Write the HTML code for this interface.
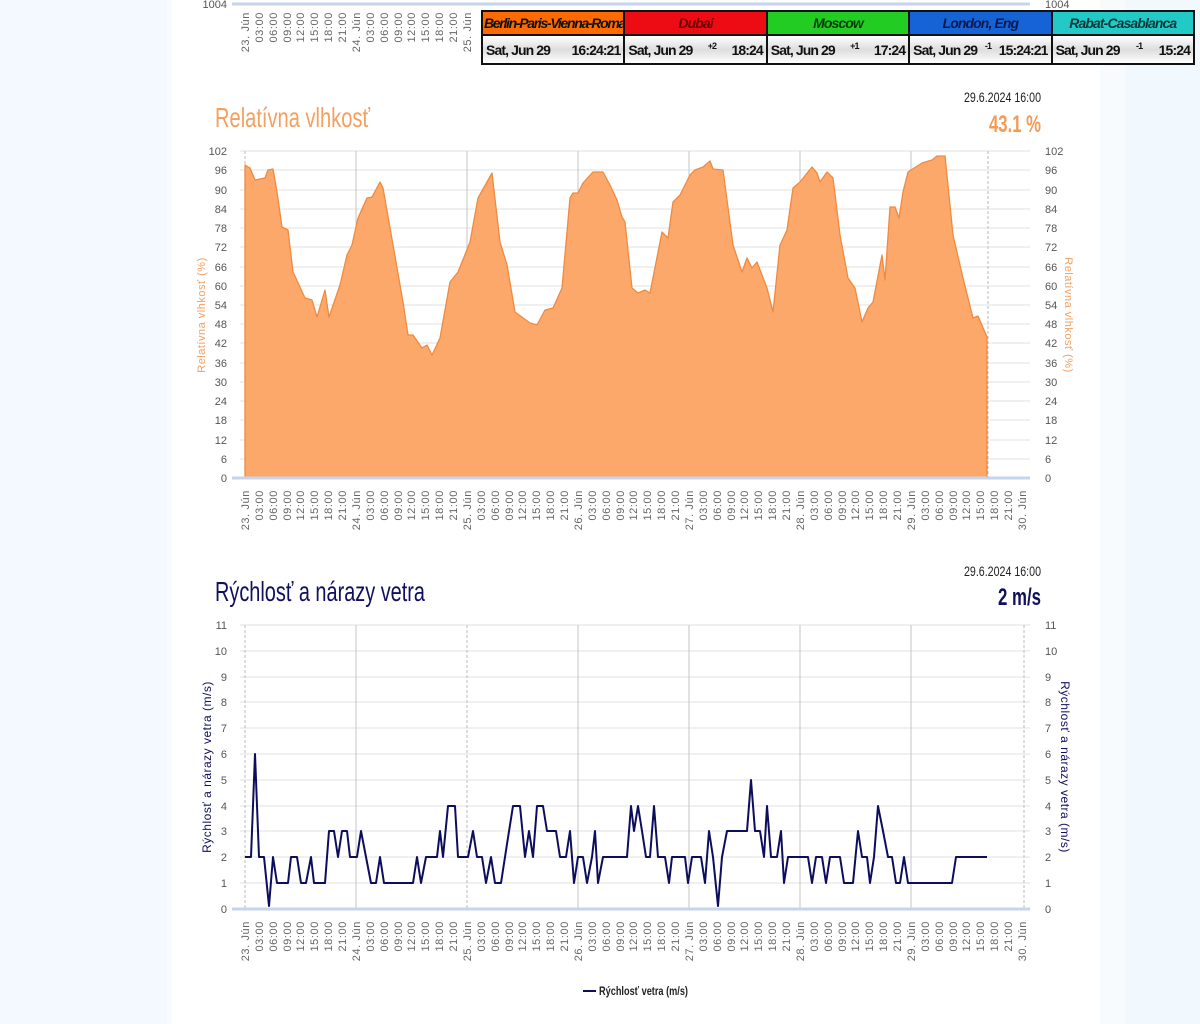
<!DOCTYPE html>
<html><head><meta charset="utf-8"><style>
html,body{margin:0;padding:0;width:1200px;height:1024px;overflow:hidden;background:#f1f8fe;}
.bg1{position:absolute;left:0;top:0;width:167px;height:1024px;background:#f3f9fe}
.bg2{position:absolute;left:167px;top:0;width:5px;height:1024px;background:#f8fbff}
.panel{position:absolute;left:172px;top:0;width:928px;height:1024px;background:#fff}
.bg3{position:absolute;left:1100px;top:0;width:25px;height:1024px;background:#f7fbfe}
svg{position:absolute;left:0;top:0}
table.tz{position:absolute;left:481px;top:10px;width:714px;table-layout:fixed;border-collapse:collapse;font-family:"Liberation Sans Narrow","Liberation Sans",sans-serif;font-weight:bold;}
table.tz td{border:2px solid #111;padding:0 3px;height:23px;font-size:14px;letter-spacing:-0.9px;white-space:nowrap;overflow:hidden}
table.tz tr.h td{font-style:italic;text-align:center;height:22px}
table.tz tr.d td{height:27px;background:linear-gradient(#fff,#ddd 50%,#fff);color:#111;position:relative}
.sp{display:flex;justify-content:space-between;align-items:center}
sup{font-size:9px;position:relative;top:-4px}
</style></head><body>
<div class="bg1"></div><div class="bg2"></div><div class="panel"></div><div class="bg3"></div>
<svg width="1200" height="1024" viewBox="0 0 1200 1024" font-family="Liberation Sans, sans-serif">
<line x1="232" y1="4" x2="1030" y2="4" stroke="#c6d4ee" stroke-width="3"/>
<text x="227" y="8" font-size="11" fill="#555" text-anchor="end">1004</text>
<text x="1045" y="8" font-size="11" fill="#555">1004</text>
<g font-size="11" fill="#666" text-anchor="end" letter-spacing="0.6">
<text transform="translate(249,12) rotate(-90)">23. Jún</text>
<text transform="translate(263,12) rotate(-90)">03:00</text>
<text transform="translate(277,12) rotate(-90)">06:00</text>
<text transform="translate(291,12) rotate(-90)">09:00</text>
<text transform="translate(304,12) rotate(-90)">12:00</text>
<text transform="translate(318,12) rotate(-90)">15:00</text>
<text transform="translate(332,12) rotate(-90)">18:00</text>
<text transform="translate(346,12) rotate(-90)">21:00</text>
<text transform="translate(360,12) rotate(-90)">24. Jún</text>
<text transform="translate(374,12) rotate(-90)">03:00</text>
<text transform="translate(388,12) rotate(-90)">06:00</text>
<text transform="translate(402,12) rotate(-90)">09:00</text>
<text transform="translate(415,12) rotate(-90)">12:00</text>
<text transform="translate(429,12) rotate(-90)">15:00</text>
<text transform="translate(443,12) rotate(-90)">18:00</text>
<text transform="translate(457,12) rotate(-90)">21:00</text>
<text transform="translate(471,12) rotate(-90)">25. Jún</text>
</g>

<text x="215" y="127" font-size="28" fill="#f4a060" textLength="155" lengthAdjust="spacingAndGlyphs">Relatívna vlhkosť</text>
<text x="1041" y="102" font-size="14" fill="#222" text-anchor="end" textLength="77" lengthAdjust="spacingAndGlyphs">29.6.2024 16:00</text>
<text x="1041" y="132" font-size="24" font-weight="bold" fill="#f59a55" text-anchor="end" textLength="52" lengthAdjust="spacingAndGlyphs">43.1 %</text>
<g stroke="#e2e2e2" stroke-width="1">
<line x1="240" y1="151" x2="1030" y2="151"/><line x1="240" y1="170" x2="1030" y2="170"/><line x1="240" y1="190" x2="1030" y2="190"/><line x1="240" y1="209" x2="1030" y2="209"/><line x1="240" y1="228" x2="1030" y2="228"/><line x1="240" y1="247" x2="1030" y2="247"/><line x1="240" y1="267" x2="1030" y2="267"/><line x1="240" y1="286" x2="1030" y2="286"/><line x1="240" y1="305" x2="1030" y2="305"/><line x1="240" y1="324" x2="1030" y2="324"/><line x1="240" y1="343" x2="1030" y2="343"/><line x1="240" y1="363" x2="1030" y2="363"/><line x1="240" y1="382" x2="1030" y2="382"/><line x1="240" y1="401" x2="1030" y2="401"/><line x1="240" y1="420" x2="1030" y2="420"/><line x1="240" y1="440" x2="1030" y2="440"/><line x1="240" y1="459" x2="1030" y2="459"/>
</g>
<g stroke="#c4c4c4" stroke-width="1">
<line x1="356" y1="151" x2="356" y2="478"/><line x1="467" y1="151" x2="467" y2="478"/><line x1="578" y1="151" x2="578" y2="478"/><line x1="689" y1="151" x2="689" y2="478"/><line x1="800" y1="151" x2="800" y2="478"/><line x1="911" y1="151" x2="911" y2="478"/>
</g>
<g stroke="#bbb" stroke-width="1" stroke-dasharray="3,2">
<line x1="245" y1="151" x2="245" y2="478"/><line x1="988" y1="151" x2="988" y2="478"/>
</g>
<polygon fill="#fba86a" stroke="#f08a40" stroke-width="1.3" stroke-linejoin="round" points="245,478 245,165 250,168 255,180 265,178 268,170 273,169 277,192 282,227 288,230 293,272 305,298 312,300 317,317 325,290 329,317 340,285 347,255 352,245 358,218 367,198 372,197 380,182 383,188 393,245 403,302 408,335 413,335 422,348 427,345 432,355 440,338 450,282 458,272 470,242 478,198 487,182 492,173 500,242 507,265 515,312 530,323 537,325 545,310 553,308 562,288 570,198 573,193 578,193 583,183 593,172 603,172 610,185 617,200 622,217 625,222 632,288 638,293 645,290 650,293 662,232 668,238 673,202 680,195 690,175 695,170 703,167 710,161 713,169 723,170 733,245 742,272 747,258 752,268 757,262 767,288 773,312 780,245 787,230 793,188 800,182 812,167 817,173 820,182 827,172 833,178 840,235 848,278 855,288 862,322 868,308 873,302 882,255 885,280 890,207 895,207 899,218 903,192 908,172 922,163 932,160 937,156 945,156 953,235 963,278 973,318 978,316 987,337 987,478"/>
<line x1="232" y1="478" x2="1030" y2="478" stroke="#c6d4ee" stroke-width="3"/>
<g font-size="11" fill="#555">
<g text-anchor="end">
<text x="227" y="155">102</text><text x="227" y="174">96</text><text x="227" y="194">90</text><text x="227" y="213">84</text><text x="227" y="232">78</text><text x="227" y="251">72</text><text x="227" y="271">66</text><text x="227" y="290">60</text><text x="227" y="309">54</text><text x="227" y="328">48</text><text x="227" y="347">42</text><text x="227" y="367">36</text><text x="227" y="386">30</text><text x="227" y="405">24</text><text x="227" y="424">18</text><text x="227" y="444">12</text><text x="227" y="463">6</text><text x="227" y="482">0</text>
</g>
<text x="1045" y="155">102</text><text x="1045" y="174">96</text><text x="1045" y="194">90</text><text x="1045" y="213">84</text><text x="1045" y="232">78</text><text x="1045" y="251">72</text><text x="1045" y="271">66</text><text x="1045" y="290">60</text><text x="1045" y="309">54</text><text x="1045" y="328">48</text><text x="1045" y="347">42</text><text x="1045" y="367">36</text><text x="1045" y="386">30</text><text x="1045" y="405">24</text><text x="1045" y="424">18</text><text x="1045" y="444">12</text><text x="1045" y="463">6</text><text x="1045" y="482">0</text>
</g>
<text transform="translate(205,315) rotate(-90)" font-size="11" fill="#f4a060" text-anchor="middle" letter-spacing="0.5">Relatívna vlhkosť (%)</text>
<text transform="translate(1065,315) rotate(90)" font-size="11" fill="#f4a060" text-anchor="middle" letter-spacing="0.5">Relatívna vlhkosť (%)</text>
<g font-size="11" fill="#666" text-anchor="end" letter-spacing="0.6">
<text transform="translate(249,490) rotate(-90)">23. Jún</text><text transform="translate(263,490) rotate(-90)">03:00</text><text transform="translate(277,490) rotate(-90)">06:00</text><text transform="translate(291,490) rotate(-90)">09:00</text><text transform="translate(304,490) rotate(-90)">12:00</text><text transform="translate(318,490) rotate(-90)">15:00</text><text transform="translate(332,490) rotate(-90)">18:00</text><text transform="translate(346,490) rotate(-90)">21:00</text>
<text transform="translate(360,490) rotate(-90)">24. Jún</text><text transform="translate(374,490) rotate(-90)">03:00</text><text transform="translate(388,490) rotate(-90)">06:00</text><text transform="translate(402,490) rotate(-90)">09:00</text><text transform="translate(415,490) rotate(-90)">12:00</text><text transform="translate(429,490) rotate(-90)">15:00</text><text transform="translate(443,490) rotate(-90)">18:00</text><text transform="translate(457,490) rotate(-90)">21:00</text>
<text transform="translate(471,490) rotate(-90)">25. Jún</text><text transform="translate(485,490) rotate(-90)">03:00</text><text transform="translate(499,490) rotate(-90)">06:00</text><text transform="translate(513,490) rotate(-90)">09:00</text><text transform="translate(526,490) rotate(-90)">12:00</text><text transform="translate(540,490) rotate(-90)">15:00</text><text transform="translate(554,490) rotate(-90)">18:00</text><text transform="translate(568,490) rotate(-90)">21:00</text>
<text transform="translate(582,490) rotate(-90)">26. Jún</text><text transform="translate(596,490) rotate(-90)">03:00</text><text transform="translate(610,490) rotate(-90)">06:00</text><text transform="translate(624,490) rotate(-90)">09:00</text><text transform="translate(637,490) rotate(-90)">12:00</text><text transform="translate(651,490) rotate(-90)">15:00</text><text transform="translate(665,490) rotate(-90)">18:00</text><text transform="translate(679,490) rotate(-90)">21:00</text>
<text transform="translate(693,490) rotate(-90)">27. Jún</text><text transform="translate(707,490) rotate(-90)">03:00</text><text transform="translate(721,490) rotate(-90)">06:00</text><text transform="translate(735,490) rotate(-90)">09:00</text><text transform="translate(748,490) rotate(-90)">12:00</text><text transform="translate(762,490) rotate(-90)">15:00</text><text transform="translate(776,490) rotate(-90)">18:00</text><text transform="translate(790,490) rotate(-90)">21:00</text>
<text transform="translate(804,490) rotate(-90)">28. Jún</text><text transform="translate(818,490) rotate(-90)">03:00</text><text transform="translate(832,490) rotate(-90)">06:00</text><text transform="translate(846,490) rotate(-90)">09:00</text><text transform="translate(859,490) rotate(-90)">12:00</text><text transform="translate(873,490) rotate(-90)">15:00</text><text transform="translate(887,490) rotate(-90)">18:00</text><text transform="translate(901,490) rotate(-90)">21:00</text>
<text transform="translate(915,490) rotate(-90)">29. Jún</text><text transform="translate(929,490) rotate(-90)">03:00</text><text transform="translate(943,490) rotate(-90)">06:00</text><text transform="translate(957,490) rotate(-90)">09:00</text><text transform="translate(970,490) rotate(-90)">12:00</text><text transform="translate(984,490) rotate(-90)">15:00</text><text transform="translate(998,490) rotate(-90)">18:00</text><text transform="translate(1012,490) rotate(-90)">21:00</text>
<text transform="translate(1026,490) rotate(-90)">30. Jún</text>
</g>

<text x="215" y="601" font-size="28" fill="#10105e" textLength="210" lengthAdjust="spacingAndGlyphs">Rýchlosť a nárazy vetra</text>
<text x="1041" y="576" font-size="14" fill="#222" text-anchor="end" textLength="77" lengthAdjust="spacingAndGlyphs">29.6.2024 16:00</text>
<text x="1041" y="605" font-size="24" font-weight="bold" fill="#10105e" text-anchor="end" textLength="43" lengthAdjust="spacingAndGlyphs">2 m/s</text>
<g stroke="#e2e2e2" stroke-width="1">
<line x1="240" y1="625" x2="1030" y2="625"/><line x1="240" y1="651" x2="1030" y2="651"/><line x1="240" y1="677" x2="1030" y2="677"/><line x1="240" y1="702" x2="1030" y2="702"/><line x1="240" y1="728" x2="1030" y2="728"/><line x1="240" y1="754" x2="1030" y2="754"/><line x1="240" y1="780" x2="1030" y2="780"/><line x1="240" y1="806" x2="1030" y2="806"/><line x1="240" y1="831" x2="1030" y2="831"/><line x1="240" y1="857" x2="1030" y2="857"/><line x1="240" y1="883" x2="1030" y2="883"/>
</g>
<g stroke="#c4c4c4" stroke-width="1">
<line x1="356" y1="625" x2="356" y2="909"/><line x1="578" y1="625" x2="578" y2="909"/><line x1="689" y1="625" x2="689" y2="909"/><line x1="800" y1="625" x2="800" y2="909"/><line x1="911" y1="625" x2="911" y2="909"/>
</g>
<g stroke="#bbb" stroke-width="1" stroke-dasharray="3,2">
<line x1="245" y1="625" x2="245" y2="909"/><line x1="467" y1="625" x2="467" y2="909"/><line x1="1024" y1="625" x2="1024" y2="909"/>
</g>
<line x1="232" y1="909" x2="1030" y2="909" stroke="#c6d4ee" stroke-width="3"/>
<polyline fill="none" stroke="#0d0d5e" stroke-width="2" stroke-linejoin="round" points="245,857 251,857 255,754 259,857 264,857 269,906 273,857 277,883 288,883 291,857 297,857 301,883 306,883 311,857 314,883 325,883 329,831 334,831 338,857 342,831 347,831 350,857 357,857 361,831 366,857 371,883 376,883 380,857 384,883 413,883 417,857 421,883 426,857 437,857 440,831 443,857 448,806 455,806 458,857 468,857 473,831 477,857 482,857 486,883 491,857 495,883 501,883 507,844 513,806 520,806 525,857 529,831 533,857 537,806 543,806 547,831 556,831 560,857 566,857 570,831 574,883 578,857 583,857 587,883 592,857 595,831 598,883 603,857 627,857 631,806 634,831 638,806 642,831 646,857 650,857 654,806 658,857 665,857 669,883 672,857 685,857 688,883 692,857 701,857 705,883 709,831 713,857 718,906 722,857 727,831 747,831 751,780 755,831 760,831 764,857 767,806 771,857 777,857 781,831 784,883 788,857 808,857 812,883 816,857 822,857 826,883 830,857 840,857 844,883 853,883 858,831 862,857 867,857 870,883 874,857 878,806 883,831 888,857 892,857 896,883 900,883 904,857 908,883 952,883 956,857 987,857"/>
<g font-size="11" fill="#555">
<g text-anchor="end">
<text x="227" y="629">11</text><text x="227" y="655">10</text><text x="227" y="681">9</text><text x="227" y="706">8</text><text x="227" y="732">7</text><text x="227" y="758">6</text><text x="227" y="784">5</text><text x="227" y="810">4</text><text x="227" y="835">3</text><text x="227" y="861">2</text><text x="227" y="887">1</text><text x="227" y="913">0</text>
</g>
<text x="1045" y="629">11</text><text x="1045" y="655">10</text><text x="1045" y="681">9</text><text x="1045" y="706">8</text><text x="1045" y="732">7</text><text x="1045" y="758">6</text><text x="1045" y="784">5</text><text x="1045" y="810">4</text><text x="1045" y="835">3</text><text x="1045" y="861">2</text><text x="1045" y="887">1</text><text x="1045" y="913">0</text>
</g>
<text transform="translate(211,767) rotate(-90)" font-size="12" fill="#10105e" text-anchor="middle" letter-spacing="0.5">Rýchlosť a nárazy vetra (m/s)</text>
<text transform="translate(1061,767) rotate(90)" font-size="12" fill="#10105e" text-anchor="middle" letter-spacing="0.5">Rýchlosť a nárazy vetra (m/s)</text>
<g font-size="11" fill="#666" text-anchor="end" letter-spacing="0.6">
<text transform="translate(249,921) rotate(-90)">23. Jún</text><text transform="translate(263,921) rotate(-90)">03:00</text><text transform="translate(277,921) rotate(-90)">06:00</text><text transform="translate(291,921) rotate(-90)">09:00</text><text transform="translate(304,921) rotate(-90)">12:00</text><text transform="translate(318,921) rotate(-90)">15:00</text><text transform="translate(332,921) rotate(-90)">18:00</text><text transform="translate(346,921) rotate(-90)">21:00</text>
<text transform="translate(360,921) rotate(-90)">24. Jún</text><text transform="translate(374,921) rotate(-90)">03:00</text><text transform="translate(388,921) rotate(-90)">06:00</text><text transform="translate(402,921) rotate(-90)">09:00</text><text transform="translate(415,921) rotate(-90)">12:00</text><text transform="translate(429,921) rotate(-90)">15:00</text><text transform="translate(443,921) rotate(-90)">18:00</text><text transform="translate(457,921) rotate(-90)">21:00</text>
<text transform="translate(471,921) rotate(-90)">25. Jún</text><text transform="translate(485,921) rotate(-90)">03:00</text><text transform="translate(499,921) rotate(-90)">06:00</text><text transform="translate(513,921) rotate(-90)">09:00</text><text transform="translate(526,921) rotate(-90)">12:00</text><text transform="translate(540,921) rotate(-90)">15:00</text><text transform="translate(554,921) rotate(-90)">18:00</text><text transform="translate(568,921) rotate(-90)">21:00</text>
<text transform="translate(582,921) rotate(-90)">26. Jún</text><text transform="translate(596,921) rotate(-90)">03:00</text><text transform="translate(610,921) rotate(-90)">06:00</text><text transform="translate(624,921) rotate(-90)">09:00</text><text transform="translate(637,921) rotate(-90)">12:00</text><text transform="translate(651,921) rotate(-90)">15:00</text><text transform="translate(665,921) rotate(-90)">18:00</text><text transform="translate(679,921) rotate(-90)">21:00</text>
<text transform="translate(693,921) rotate(-90)">27. Jún</text><text transform="translate(707,921) rotate(-90)">03:00</text><text transform="translate(721,921) rotate(-90)">06:00</text><text transform="translate(735,921) rotate(-90)">09:00</text><text transform="translate(748,921) rotate(-90)">12:00</text><text transform="translate(762,921) rotate(-90)">15:00</text><text transform="translate(776,921) rotate(-90)">18:00</text><text transform="translate(790,921) rotate(-90)">21:00</text>
<text transform="translate(804,921) rotate(-90)">28. Jún</text><text transform="translate(818,921) rotate(-90)">03:00</text><text transform="translate(832,921) rotate(-90)">06:00</text><text transform="translate(846,921) rotate(-90)">09:00</text><text transform="translate(859,921) rotate(-90)">12:00</text><text transform="translate(873,921) rotate(-90)">15:00</text><text transform="translate(887,921) rotate(-90)">18:00</text><text transform="translate(901,921) rotate(-90)">21:00</text>
<text transform="translate(915,921) rotate(-90)">29. Jún</text><text transform="translate(929,921) rotate(-90)">03:00</text><text transform="translate(943,921) rotate(-90)">06:00</text><text transform="translate(957,921) rotate(-90)">09:00</text><text transform="translate(970,921) rotate(-90)">12:00</text><text transform="translate(984,921) rotate(-90)">15:00</text><text transform="translate(998,921) rotate(-90)">18:00</text><text transform="translate(1012,921) rotate(-90)">21:00</text>
<text transform="translate(1026,921) rotate(-90)">30. Jún</text>
</g>
<line x1="583" y1="991" x2="596" y2="991" stroke="#0d0d5e" stroke-width="2"/>
<text x="599" y="995" font-size="12" font-weight="bold" fill="#222" textLength="89" lengthAdjust="spacingAndGlyphs">Rýchlosť vetra (m/s)</text>
</svg>

<table class="tz">
<tr class="h">
<td style="background:#ff6a00;color:#111;padding:0 1px;letter-spacing:-1.3px">Berlin-Paris-Vienna-Roma</td>
<td style="background:#ee0c14;color:#6a0000">Dubai</td>
<td style="background:#22cc22;color:#063a06">Moscow</td>
<td style="background:#1563d4;color:#0a1a50">London, Eng</td>
<td style="background:#22c9c6;color:#083838">Rabat-Casablanca</td>
</tr>
<tr class="d">
<td><div class="sp"><span>Sat, Jun 29</span><span>16:24:21</span></div></td>
<td><div class="sp"><span>Sat, Jun 29</span><sup>+2</sup><span>18:24</span></div></td>
<td><div class="sp"><span>Sat, Jun 29</span><sup>+1</sup><span>17:24</span></div></td>
<td><div class="sp"><span>Sat, Jun 29</span><sup>-1</sup><span>15:24:21</span></div></td>
<td><div class="sp"><span>Sat, Jun 29</span><sup>-1</sup><span>15:24</span></div></td>
</tr>
</table>
</body></html>
